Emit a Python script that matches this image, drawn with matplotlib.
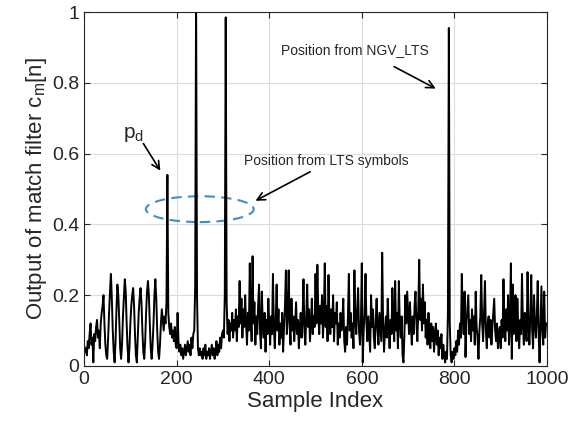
import numpy as np
import matplotlib
matplotlib.use("Agg")
import matplotlib.pyplot as plt
from matplotlib.patches import Ellipse

plt.rcParams['font.family'] = ['Liberation Sans', 'DejaVu Sans']

# matched filter output, every 2 samples (n = 0, 2, ..., 998)
step = 2
cm = [
    # 0 - 98
    0.06, 0.04, 0.05, 0.03, 0.07, 0.05, 0.09, 0.12, 0.06, 0.08, 0.01, 0.09, 0.07, 0.11, 0.13, 0.08, 0.10, 0.05, 0.12, 0.15, 0.17, 0.20, 0.12, 0.06, 0.03,
    0.02, 0.08, 0.15, 0.21, 0.26, 0.19, 0.10, 0.04, 0.01, 0.07, 0.16, 0.23, 0.20, 0.13, 0.05, 0.02, 0.06, 0.14, 0.19, 0.245, 0.21, 0.12, 0.05, 0.01, 0.05,
    # 100 - 198
    0.12, 0.17, 0.20, 0.22, 0.17, 0.09, 0.03, 0.01, 0.08, 0.15, 0.19, 0.22, 0.18, 0.10, 0.04, 0.02, 0.07, 0.15, 0.21, 0.24, 0.20, 0.12, 0.05, 0.02, 0.06,
    0.12, 0.20, 0.245, 0.19, 0.10, 0.04, 0.02, 0.06, 0.12, 0.16, 0.13, 0.10, 0.14, 0.12, 0.18, 0.54, 0.15, 0.11, 0.09, 0.12, 0.08, 0.10, 0.07, 0.11, 0.06,
    # 200 - 298
    0.05, 0.15, 0.07, 0.04, 0.06, 0.03, 0.05, 0.02, 0.04, 0.06, 0.03, 0.05, 0.07, 0.04, 0.06, 0.03, 0.08, 0.05, 0.09, 0.10, 0.22, 1.05, 0.20, 0.05, 0.03,
    0.05, 0.03, 0.04, 0.02, 0.05, 0.03, 0.06, 0.02, 0.04, 0.03, 0.05, 0.02, 0.04, 0.06, 0.03, 0.05, 0.02, 0.04, 0.07, 0.03, 0.06, 0.04, 0.08, 0.05, 0.09,
    # 300 - 398
    0.10, 0.08, 0.20, 0.985, 0.18, 0.09, 0.13, 0.07, 0.12, 0.10, 0.15, 0.08, 0.13, 0.10, 0.16, 0.07, 0.14, 0.11, 0.24, 0.12, 0.19, 0.08, 0.16, 0.11, 0.20,
    0.12, 0.06, 0.15, 0.10, 0.29, 0.14, 0.07, 0.31, 0.12, 0.18, 0.06, 0.14, 0.09, 0.17, 0.23, 0.10, 0.05, 0.21, 0.12, 0.08, 0.15, 0.04, 0.13, 0.09, 0.19,
    # 400 - 498
    0.12, 0.06, 0.14, 0.09, 0.26, 0.11, 0.05, 0.13, 0.23, 0.10, 0.16, 0.06, 0.12, 0.08, 0.15, 0.04, 0.11, 0.17, 0.27, 0.09, 0.14, 0.27, 0.12, 0.06, 0.19,
    0.10, 0.14, 0.07, 0.12, 0.18, 0.09, 0.13, 0.05, 0.11, 0.15, 0.08, 0.13, 0.245, 0.10, 0.06, 0.14, 0.23, 0.11, 0.16, 0.07, 0.12, 0.19, 0.09, 0.14, 0.11,
    # 500 - 598
    0.26, 0.12, 0.286, 0.15, 0.09, 0.17, 0.12, 0.20, 0.08, 0.14, 0.29, 0.11, 0.17, 0.07, 0.257, 0.13, 0.09, 0.16, 0.11, 0.20, 0.07, 0.15, 0.12, 0.18, 0.06,
    0.12, 0.08, 0.15, 0.10, 0.13, 0.19, 0.07, 0.04, 0.11, 0.06, 0.14, 0.26, 0.10, 0.15, 0.08, 0.12, 0.05, 0.27, 0.13, 0.09, 0.16, 0.22, 0.10, 0.06, 0.12,
    # 600 - 698
    0.29, 0.01, 0.10, 0.15, 0.26, 0.12, 0.07, 0.14, 0.09, 0.04, 0.20, 0.11, 0.16, 0.08, 0.05, 0.13, 0.19, 0.10, 0.06, 0.15, 0.11, 0.07, 0.32, 0.12, 0.04,
    0.10, 0.14, 0.08, 0.19, 0.11, 0.05, 0.13, 0.09, 0.22, 0.12, 0.07, 0.24, 0.10, 0.15, 0.05, 0.24, 0.12, 0.08, 0.14, 0.03, 0.01, 0.09, 0.20, 0.12, 0.21,
    # 700 - 798
    0.15, 0.09, 0.18, 0.11, 0.06, 0.14, 0.09, 0.17, 0.21, 0.12, 0.07, 0.16, 0.30, 0.13, 0.19, 0.10, 0.23, 0.12, 0.18, 0.08, 0.13, 0.06, 0.15, 0.09, 0.05,
    0.12, 0.07, 0.11, 0.04, 0.09, 0.12, 0.06, 0.10, 0.03, 0.08, 0.05, 0.09, 0.02, 0.06, 0.03, 0.01, 0.04, 0.02, 0.15, 0.955, 0.12, 0.03, 0.01, 0.04, 0.02,
    # 800 - 898
    0.05, 0.03, 0.07, 0.04, 0.10, 0.06, 0.12, 0.08, 0.26, 0.14, 0.09, 0.21, 0.025, 0.12, 0.16, 0.20, 0.09, 0.13, 0.07, 0.16, 0.10, 0.14, 0.06, 0.21, 0.11,
    0.08, 0.02, 0.10, 0.14, 0.257, 0.12, 0.07, 0.15, 0.24, 0.10, 0.05, 0.12, 0.14, 0.08, 0.13, 0.06, 0.11, 0.15, 0.19, 0.10, 0.07, 0.12, 0.05, 0.09, 0.11,
    # 900 - 998
    0.05, 0.13, 0.08, 0.245, 0.12, 0.07, 0.16, 0.10, 0.20, 0.06, 0.12, 0.29, 0.02, 0.23, 0.09, 0.14, 0.20, 0.07, 0.19, 0.11, 0.05, 0.13, 0.09, 0.26, 0.12,
    0.06, 0.15, 0.10, 0.07, 0.265, 0.11, 0.06, 0.14, 0.257, 0.10, 0.05, 0.20, 0.12, 0.08, 0.14, 0.24, 0.09, 0.01, 0.12, 0.225, 0.10, 0.06, 0.21, 0.08, 0.12,
]
n = np.arange(len(cm)) * step

# annotation anchors (data units)
pd_tip = (168, 0.545)
pd_text = (125, 0.635)
lts_center = (250, 0.443)
lts_size = (233, 0.073)
lts_tip = (365, 0.463)
lts_text = (345, 0.58)
ngv_tip = (765, 0.78)
ngv_text = (425, 0.893)

txt = '#262626'

fig = plt.figure(figsize=(5.68, 4.30), dpi=100)
ax = fig.add_axes([0.148, 0.149, 0.815, 0.823])

ax.plot(n, cm, color='black', lw=1.4)

ax.set_xlim(0, 1000)
ax.set_ylim(0, 1)
ax.set_xticks([0, 200, 400, 600, 800, 1000])
ax.set_yticks([0, 0.2, 0.4, 0.6, 0.8, 1])
ax.set_yticklabels(['0', '0.2', '0.4', '0.6', '0.8', '1'])
ax.grid(True, color='#dcdcdc', lw=0.8)
ax.set_axisbelow(True)
ax.tick_params(direction='in', length=4, labelsize=14, colors=txt, top=True, right=True,
               labeltop=False, labelright=False)
for s in ax.spines.values():
    s.set_color('#262626')
    s.set_linewidth(0.8)

ax.set_xlabel('Sample Index', fontsize=16, color=txt, labelpad=2)
ax.set_ylabel('Output of match filter c$_\\mathregular{m}$[n]', fontsize=16, color=txt, labelpad=2)

ell = Ellipse(lts_center, lts_size[0], lts_size[1], fill=False, edgecolor='#3d8fc4',
              lw=1.5, ls=(0, (5, 3)))
ax.add_patch(ell)

arrow = dict(arrowstyle='->', color='black', lw=1.2, mutation_scale=14)
ax.annotate('', xy=pd_tip, xytext=pd_text, arrowprops=arrow)
ax.text(pd_text[0] - 41, pd_text[1] + 0.01, 'p$_\\mathregular{d}$', fontsize=15, color=txt)
ax.annotate('Position from LTS symbols', xy=lts_tip, xytext=lts_text, fontsize=10, color=txt,
            va='center', ha='left', arrowprops=dict(arrow, relpos=(0.45, 0.0)))
ax.annotate('Position from NGV_LTS', xy=ngv_tip, xytext=ngv_text, fontsize=10, color=txt,
            va='center', ha='left', arrowprops=dict(arrow, relpos=(0.75, -0.6)))

fig.savefig('out.png', dpi=100)
